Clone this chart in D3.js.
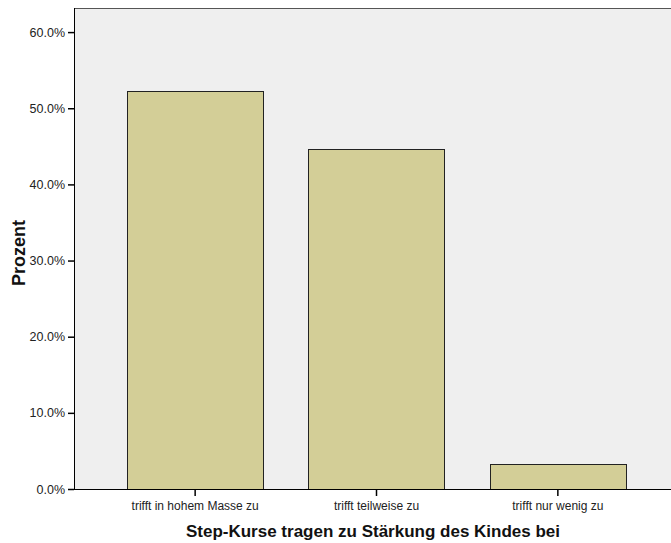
<!DOCTYPE html>
<html><head><meta charset="utf-8">
<script src="https://cdn.jsdelivr.net/npm/d3@7"></script>
<style>body{margin:0;background:#fff}svg{display:block}text{font-family:"Liberation Sans",Arial,sans-serif}</style>
</head><body>
<script>
const categories = ["trifft in hohem Masse zu", "trifft teilweise zu", "trifft nur wenig zu"];
const values = [52.2, 44.6, 3.3];
const yTicks = [0, 10, 20, 30, 40, 50, 60];
const xTitle = "Step-Kurse tragen zu Stärkung des Kindes bei";
const yTitle = "Prozent";

const W = 671, H = 543;
const svg = d3.select("body").append("svg").attr("width", W).attr("height", H);
const pLeft = 74, pRight = 679, pTop = 8, pBottom = 489;

const y = d3.scaleLinear().domain([0, 60]).range([pBottom, pBottom - 6 * 76.15]);
const x = d3.scaleBand().domain(categories).range([pLeft, pRight]).paddingInner(0.25).paddingOuter(0.293);

svg.append("rect").attr("x", pLeft).attr("y", pTop).attr("width", pRight - pLeft).attr("height", pBottom - pTop).attr("fill", "#efefef");
svg.append("line").attr("x1", pLeft).attr("x2", pRight).attr("y1", pTop + 0.5).attr("y2", pTop + 0.5).attr("stroke", "#555").attr("stroke-width", 1);

svg.selectAll("rect.bar").data(values).enter().append("rect").attr("class", "bar")
  .attr("x", (d, i) => Math.round(x(categories[i])) + 0.5)
  .attr("y", d => Math.round(y(d)) + 0.5)
  .attr("width", Math.round(x.bandwidth()))
  .attr("height", d => pBottom - Math.round(y(d)))
  .attr("fill", "#d3ce97").attr("stroke", "#222").attr("stroke-width", 1);

const yAxis = d3.axisLeft(y).tickValues(yTicks).tickFormat(d => d.toFixed(1) + "%").tickSize(6).tickPadding(3);
const gy = svg.append("g").attr("transform", `translate(${pLeft},0)`).call(yAxis);
gy.select(".domain").attr("d", `M0.5,${pTop}V${pBottom}`).attr("stroke", "#000");
gy.selectAll(".tick line").attr("stroke", "#000").attr("stroke-width", 1.5);
gy.selectAll(".tick text").attr("font-size", 12.5).attr("fill", "#222").attr("font-family", "Liberation Sans, Arial, sans-serif");

const xAxis = d3.axisBottom(x).tickSize(7).tickPadding(5);
const gx = svg.append("g").attr("transform", `translate(0,${pBottom})`).call(xAxis);
gx.select(".domain").attr("d", `M${pLeft},0.5H${pRight}`).attr("stroke", "#000");
gx.selectAll(".tick line").attr("stroke", "#000").attr("stroke-width", 1.5);
gx.selectAll(".tick text").attr("font-size", 12).attr("fill", "#222").attr("font-family", "Liberation Sans, Arial, sans-serif");

svg.append("text").attr("x", 373).attr("y", 537).attr("text-anchor", "middle")
  .attr("font-size", 17).attr("font-weight", "bold").attr("fill", "#111").text(xTitle);
svg.append("text").attr("transform", "translate(25,253) rotate(-90)").attr("text-anchor", "middle")
  .attr("font-size", 18).attr("font-weight", "bold").attr("fill", "#111").text(yTitle);
</script>
</body></html>
